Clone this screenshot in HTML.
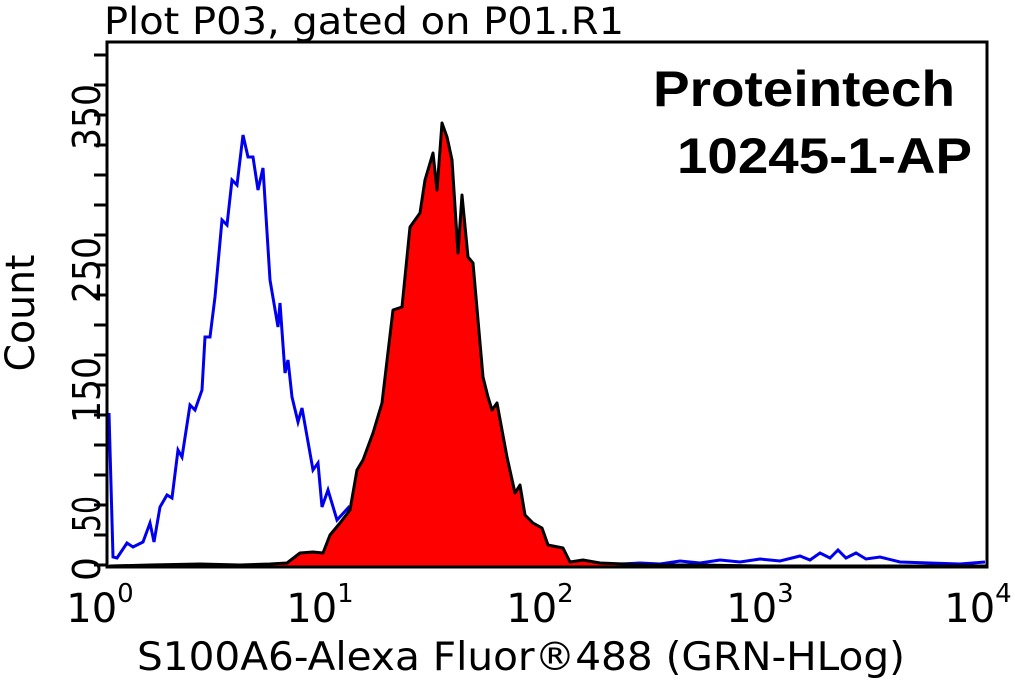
<!DOCTYPE html>
<html><head><meta charset="utf-8"><style>
html,body{margin:0;padding:0;background:#fff;width:1015px;height:683px;overflow:hidden}
svg text{font-family:"DejaVu Sans","Liberation Sans",sans-serif}
</style></head><body>
<svg width="1015" height="683" viewBox="0 0 1015 683" xmlns="http://www.w3.org/2000/svg">
<rect width="1015" height="683" fill="#fff"/>
<text x="104" y="34" font-size="37" textLength="520" lengthAdjust="spacingAndGlyphs" fill="#000">Plot P03, gated on P01.R1</text>
<!-- blue -->
<polyline fill="none" stroke="#0000ee" stroke-width="3" points="109,413 113,557 117,558 127,543 133,547 143,542 150,523 154,542 160,507 167,495 172,498 178,450 182,457 190,405 195,410 202,390 205,337 210,337 215,297 222,220 227,225 232,180 237,185 243,135 248,157 253,157 258,190 263,168 270,280 278,327 280,303 285,373 288,360 292,397 298,422 302,408 313,470 318,463 322,507 328,490 337,520 348,508 355,540 362,560 380,563 420,565 520,565 580,564 600,565 640,563 660,564 680,561 700,563 720,560 740,562 760,559 780,561 800,556 810,560 820,553 830,558 838,550 846,558 856,553 866,559 880,557 900,562 930,563 960,564 985,562"/>
<!-- red -->
<polygon fill="#ff0000" stroke="#000" stroke-width="3" stroke-linejoin="round" points="110,566 150,565 200,564 240,565 270,564 287,563 300,553 313,552 323,553 330,535 340,523 350,510 357,470 363,460 373,433 382,403 393,310 402,307 410,227 420,213 425,180 433,153 437,190 442,123 447,137 452,160 458,253 462,195 468,257 473,263 483,377 488,397 492,410 497,403 507,457 515,493 520,485 525,515 533,523 542,528 548,545 563,548 570,562 583,560 600,563 650,565 700,565 760,566 985,566 985,567 110,567"/>
<!-- frame -->
<rect x="107" y="42" width="880" height="525" fill="none" stroke="#000" stroke-width="3"/>
<g stroke="#000" stroke-width="3">
<line x1="94" y1="565" x2="107" y2="565"/><line x1="94" y1="535" x2="107" y2="535"/><line x1="94" y1="505" x2="107" y2="505"/><line x1="94" y1="475" x2="107" y2="475"/><line x1="94" y1="445" x2="107" y2="445"/><line x1="94" y1="415" x2="107" y2="415"/><line x1="94" y1="385" x2="107" y2="385"/><line x1="94" y1="355" x2="107" y2="355"/><line x1="94" y1="325" x2="107" y2="325"/><line x1="94" y1="295" x2="107" y2="295"/><line x1="94" y1="265" x2="107" y2="265"/><line x1="94" y1="235" x2="107" y2="235"/><line x1="94" y1="205" x2="107" y2="205"/><line x1="94" y1="175" x2="107" y2="175"/><line x1="94" y1="145" x2="107" y2="145"/><line x1="94" y1="115" x2="107" y2="115"/><line x1="94" y1="85" x2="107" y2="85"/><line x1="94" y1="55" x2="107" y2="55"/>
</g>
<g id="xt" stroke="#000" stroke-width="2.5"></g>
<g font-size="38" fill="#000">
<text transform="translate(100,569) rotate(-90)" text-anchor="middle">0</text>
<text transform="translate(100,514) rotate(-90)" text-anchor="middle" textLength="36" lengthAdjust="spacingAndGlyphs">50</text>
<text transform="translate(100,390) rotate(-90)" text-anchor="middle" textLength="66" lengthAdjust="spacingAndGlyphs">150</text>
<text transform="translate(100,270) rotate(-90)" text-anchor="middle" textLength="66" lengthAdjust="spacingAndGlyphs">250</text>
<text transform="translate(100,117) rotate(-90)" text-anchor="middle" textLength="66" lengthAdjust="spacingAndGlyphs">350</text>
<text transform="translate(34,313) rotate(-90)" text-anchor="middle" font-size="40" textLength="117" lengthAdjust="spacingAndGlyphs">Count</text>
</g>
<g font-size="40" fill="#000" text-anchor="middle">
<text x="100" y="622">10<tspan dy="-20" font-size="26">0</tspan></text>
<text x="320" y="622">10<tspan dy="-20" font-size="26">1</tspan></text>
<text x="540" y="622">10<tspan dy="-20" font-size="26">2</tspan></text>
<text x="760" y="622">10<tspan dy="-20" font-size="26">3</tspan></text>
<text x="978" y="622">10<tspan dy="-20" font-size="26">4</tspan></text>
</g>
<text x="137" y="670" font-size="39" textLength="768" lengthAdjust="spacingAndGlyphs" fill="#000">S100A6-Alexa Fluor®488 (GRN-HLog)</text>
<text x="653" y="106" font-size="50" font-weight="bold" textLength="302" lengthAdjust="spacingAndGlyphs" style="font-family:'Liberation Sans',sans-serif">Proteintech</text>
<text x="677" y="173" font-size="50" font-weight="bold" textLength="295" lengthAdjust="spacingAndGlyphs" style="font-family:'Liberation Sans',sans-serif">10245-1-AP</text>
<script>
var g=document.getElementById('xt'),s='';
for(var d=0;d<4;d++){for(var m=1;m<=10;m++){var x=108+219.25*(d+Math.log10(m));var L=(m==1||m==10)?14:7;s+='<line x1="'+x.toFixed(1)+'" y1="567" x2="'+x.toFixed(1)+'" y2="'+(567+L)+'"/>';}}
g.innerHTML=s;
</script>
</svg>
</body></html>
